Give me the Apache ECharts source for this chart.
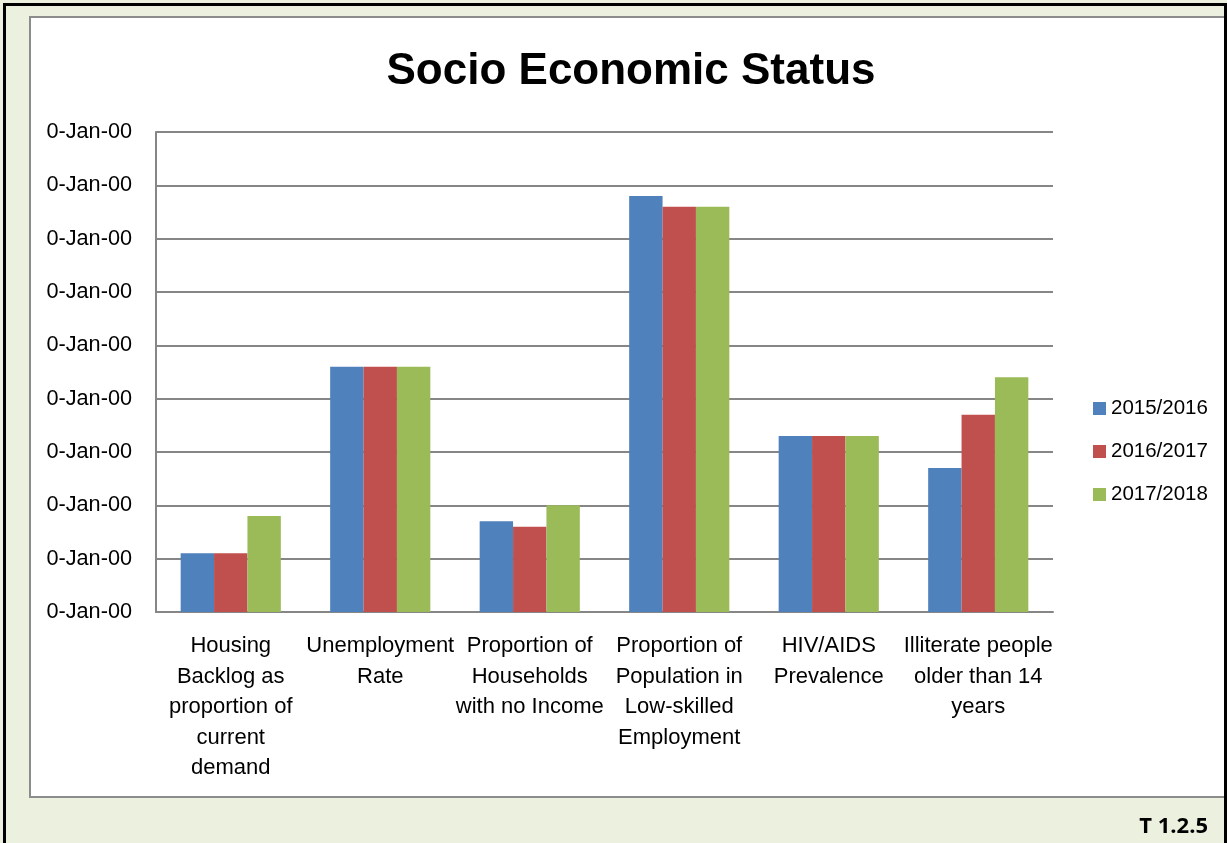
<!DOCTYPE html>
<html>
<head>
<meta charset="utf-8">
<script src="https://cdn.jsdelivr.net/npm/echarts@6/dist/echarts.min.js"></script>
<style>
  html, body { margin: 0; padding: 0; }
  body { width: 1227px; height: 843px; background: #EBF1DE; position: relative; overflow: hidden; }
  #frame { position: absolute; left: 3px; top: 3px; width: 1224px; height: 860px; border: 3px solid #000; box-sizing: border-box; }
  #panel { position: absolute; left: 29px; top: 16px; width: 1195px; height: 782px; background: #fff; border: 2px solid #8c8c8c; box-sizing: border-box; border-right: none; }
  #chart { position: absolute; left: 0; top: 0; width: 1227px; height: 843px; }
</style>
</head>
<body>
<div id="frame"></div>
<div id="panel"></div>
<div id="chart"></div>
<script>
// Indicator categories along the x axis
const categories = [
  'Housing\nBacklog as\nproportion of\ncurrent\ndemand',
  'Unemployment\nRate',
  'Proportion of\nHouseholds\nwith no Income',
  'Proportion of\nPopulation in\nLow-skilled\nEmployment',
  'HIV/AIDS\nPrevalence',
  'Illiterate people\nolder than 14\nyears'
];

// Values per financial year (percent)
const years = ['2015/2016', '2016/2017', '2017/2018'];
const values2015 = [5.5, 23, 8.5, 39, 16.5, 13.5];
const values2016 = [5.5, 23, 8, 38, 16.5, 18.5];
const values2017 = [9, 23, 10, 38, 16.5, 22];

// The value axis shows a date format code on every tick
const tickLabel = '0-Jan-00';

const colors = ['#4F81BD', '#C0504D', '#9BBB59'];
const font = '"Liberation Sans", Arial, sans-serif';

const chart = echarts.init(document.getElementById('chart'), null, { renderer: 'canvas' });

const seriesData = [values2015, values2016, values2017];

chart.setOption({
  backgroundColor: 'transparent',
  animation: false,
  textStyle: { fontFamily: font },
  title: {
    text: 'Socio Economic Status',
    left: 631,
    textAlign: 'center',
    top: 50,
    padding: 0,
    textStyle: { fontFamily: font, fontWeight: 'bold', fontSize: 44, color: '#000' }
  },
  legend: {
    orient: 'vertical',
    left: 1093,
    top: 398,
    padding: 0,
    itemWidth: 13,
    itemHeight: 13,
    itemGap: 22,
    icon: 'rect',
    textStyle: { fontFamily: font, fontSize: 20.5, color: '#000' },
    data: years
  },
  grid: { left: 156, right: 174, top: 132, bottom: 231 },
  xAxis: {
    type: 'category',
    data: categories,
    axisLine: { lineStyle: { color: '#868686', width: 2 } },
    axisTick: { show: false },
    axisLabel: {
      interval: 0,
      margin: 19,
      fontFamily: font,
      fontSize: 22,
      lineHeight: 30.5,
      color: '#000',
      verticalAlign: 'top'
    }
  },
  yAxis: {
    type: 'value',
    min: 0,
    max: 45,
    interval: 5,
    axisLine: { show: true, lineStyle: { color: '#868686', width: 2 } },
    axisTick: { show: false },
    splitLine: { lineStyle: { color: '#868686', width: 2 } },
    axisLabel: {
      margin: 24,
      fontFamily: font,
      fontSize: 21.7,
      color: '#000',
      formatter: () => tickLabel
    }
  },
  series: years.map((name, i) => ({
    name,
    type: 'bar',
    data: seriesData[i],
    barGap: '0%',
    barCategoryGap: '33%',
    itemStyle: { color: colors[i] }
  })),
  graphic: [{
    type: 'text',
    right: 19,
    top: 816,
    style: {
      text: 'T 1.2.5',
      fontFamily: '"Open Sans", "Liberation Sans", sans-serif',
      fontWeight: 'bold',
      fontSize: 22,
      fill: '#000'
    }
  }]
});
</script>
</body>
</html>
